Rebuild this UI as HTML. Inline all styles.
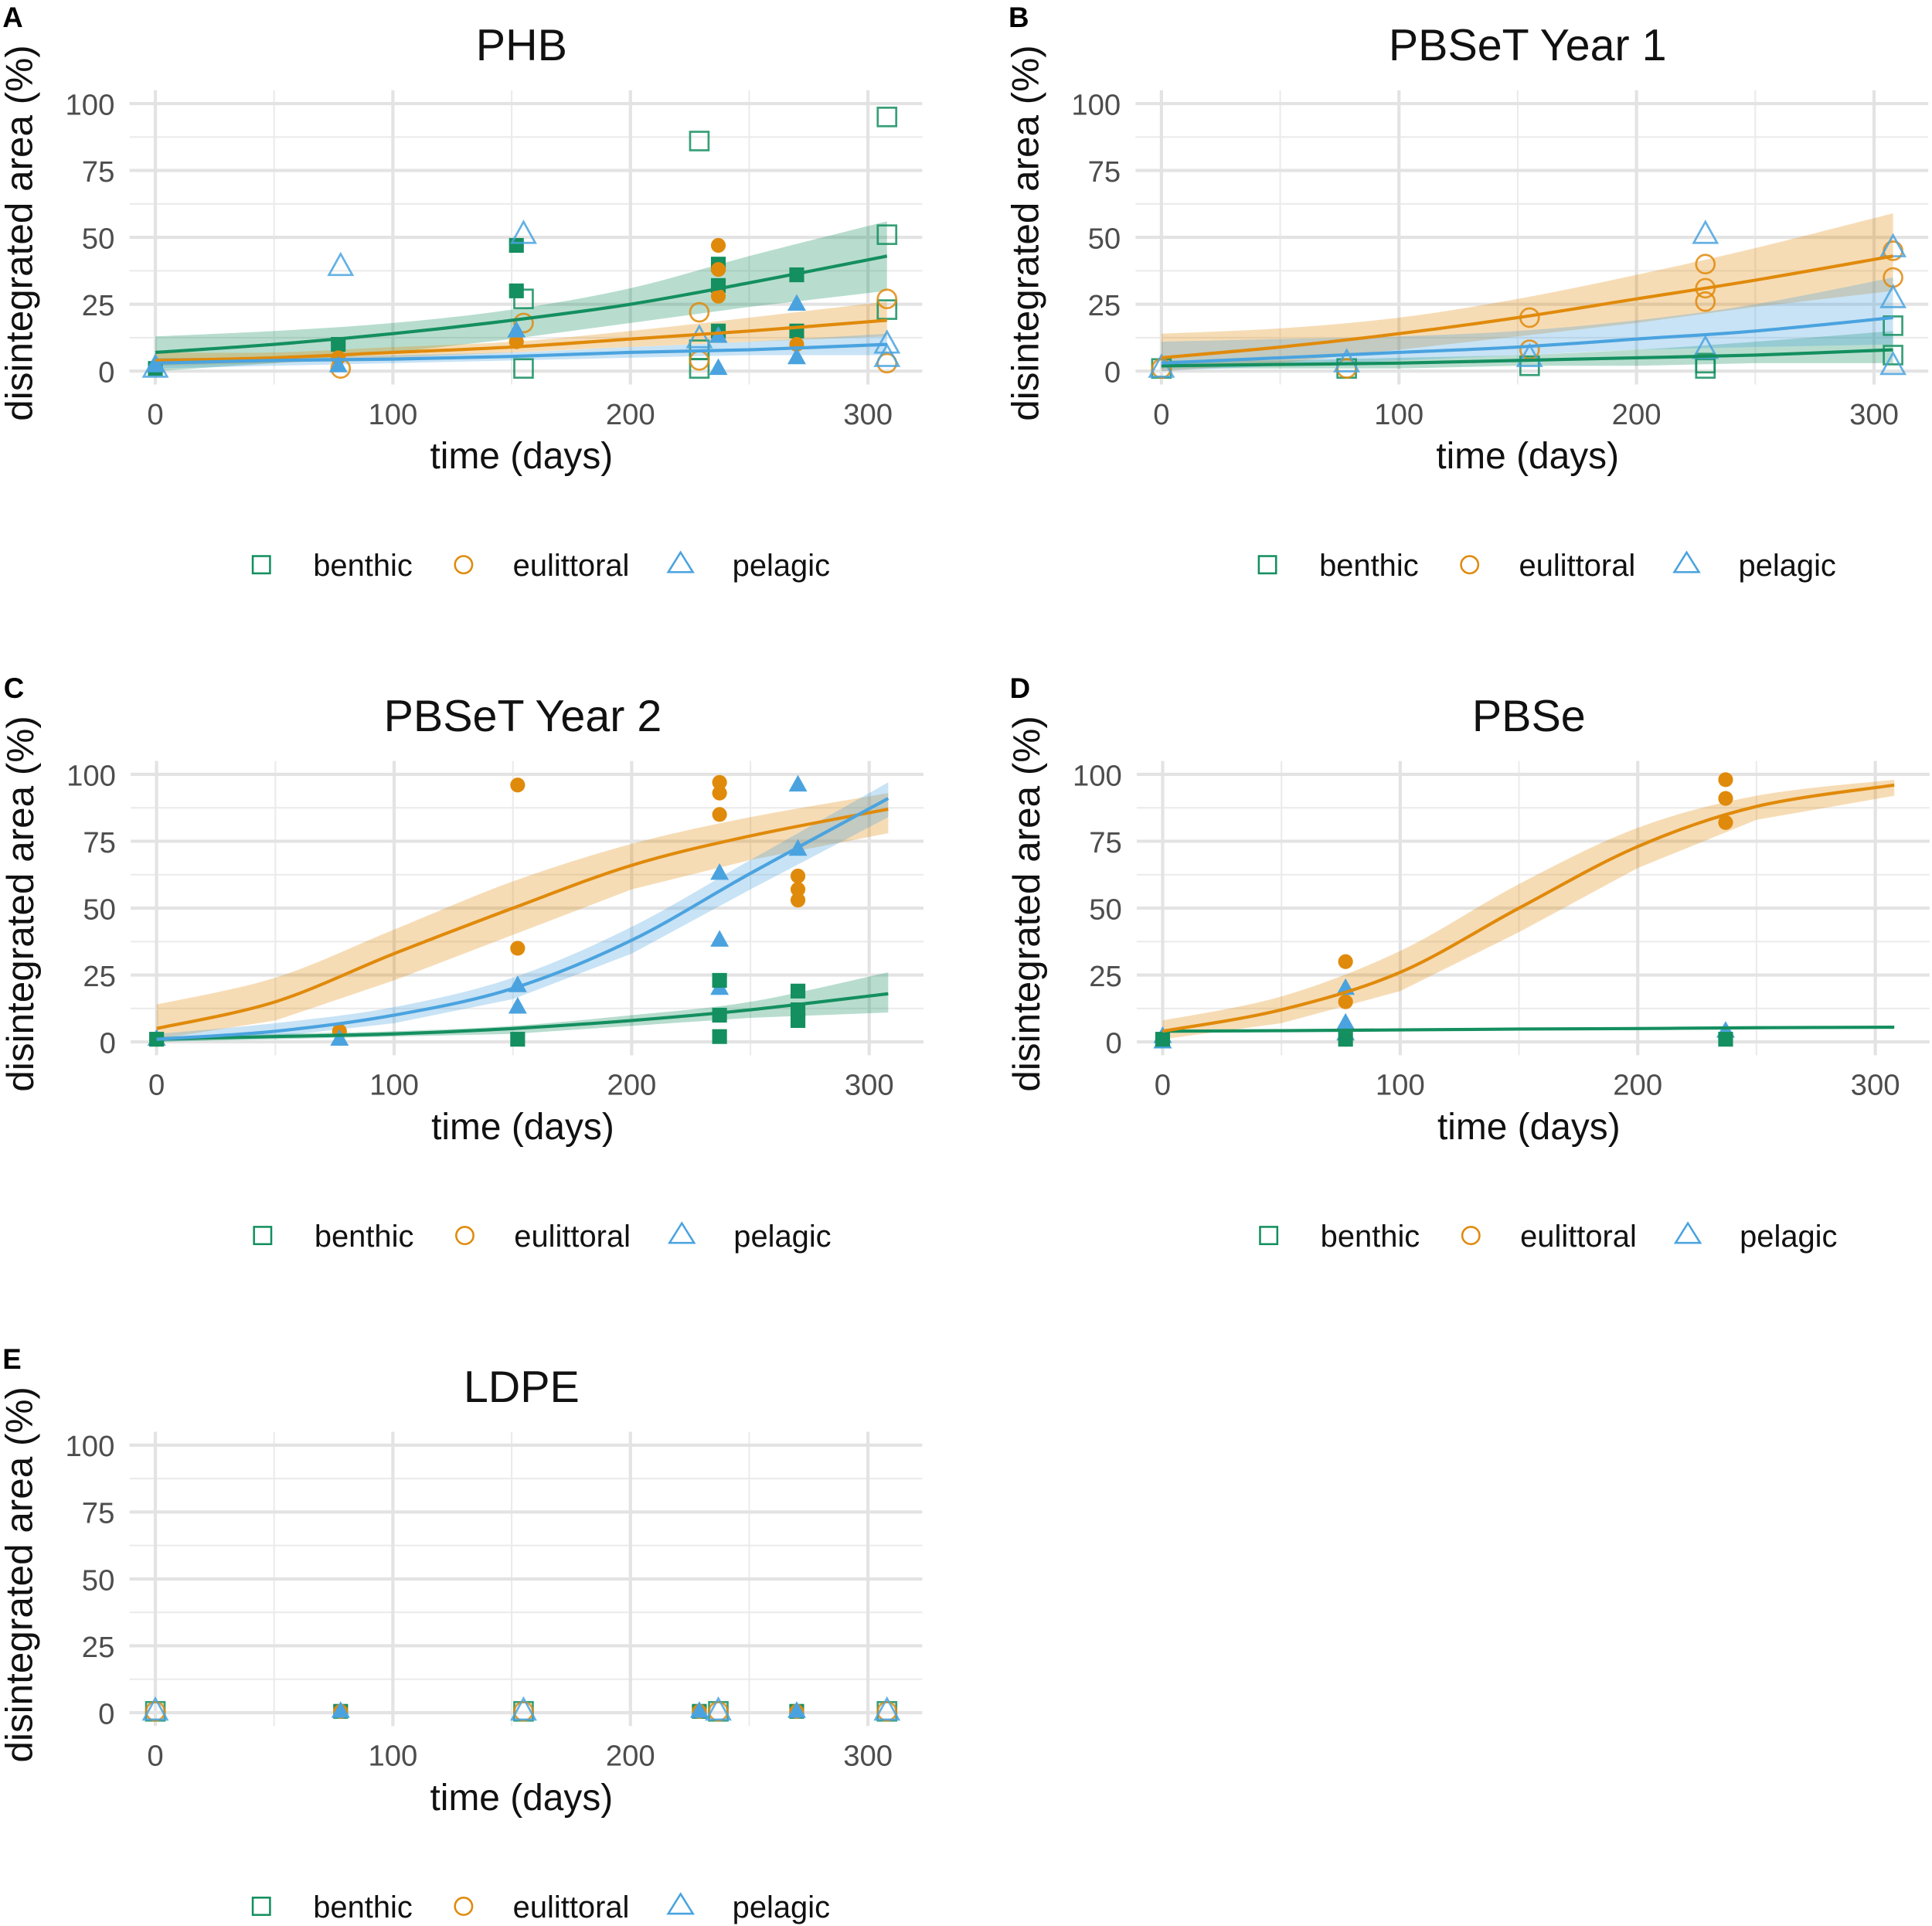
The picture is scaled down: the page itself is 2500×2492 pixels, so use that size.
<!DOCTYPE html>
<html><head><meta charset="utf-8"><style>
html,body{margin:0;padding:0;background:#fff}
svg{display:block}
text{font-family:"Liberation Sans",Arial,sans-serif}
</style></head><body>
<svg id="fig" width="2500" height="2492" viewBox="0 0 1567 1562" xmlns="http://www.w3.org/2000/svg"></svg>
<script>
// ---------- data ----------
const fitTimes = [0,50,100,150,200,250,308];
const groups = ["benthic","eulittoral","pelagic"];
const colors = {benthic:"#148f5f", eulittoral:"#e08a0b", pelagic:"#4aa3df"};
const xTicks = [0,100,200,300];
const yTicks = [0,25,50,75,100];

// panel A (PHB)
const phbFit = {
  benthic:{mid:[7,10,14,19,25,33,43], lo:[0,3,7,12,18,24,30], hi:[13,15,18,23,31,43,56]},
  eulittoral:{mid:[4,5,7,9,12,15,19], lo:[2,3,5,7,9,11,13], hi:[7,7,9,11,15,20,26]},
  pelagic:{mid:[3,4,4.5,5.5,7,8,10], lo:[1,2,3,4,5,6,6], hi:[5,5,6,7,9,11,14]}
};
const phbPoints = [
 [229,86,"benthic",0],[308,95,"benthic",0],[308,51,"benthic",0],[155,27,"benthic",0],[308,23,"benthic",0],[229,8,"benthic",0],[229,1,"benthic",0],[155,1,"benthic",0],
 [152,47,"benthic",1],[152,30,"benthic",1],[77,10,"benthic",1],[237,40,"benthic",1],[237,32,"benthic",1],[237,15,"benthic",1],[270,36,"benthic",1],[270,15,"benthic",1],[0,1,"benthic",1],
 [229,22,"eulittoral",0],[155,18,"eulittoral",0],[308,27,"eulittoral",0],[308,3,"eulittoral",0],[229,4,"eulittoral",0],[78,1,"eulittoral",0],
 [237,47,"eulittoral",1],[237,38,"eulittoral",1],[237,28,"eulittoral",1],[270,10,"eulittoral",1],[152,11,"eulittoral",1],[77,5,"eulittoral",1],
 [78,39,"pelagic",0],[155,51,"pelagic",0],[229,12,"pelagic",0],[308,10,"pelagic",0],[308,5,"pelagic",0],[0,1,"pelagic",0],
 [152,15,"pelagic",1],[237,1,"pelagic",1],[237,13,"pelagic",1],[270,25,"pelagic",1],[270,5,"pelagic",1],[77,2,"pelagic",1],[0,2,"pelagic",1]
];
// panel B (PBSeT Year 1)
const y1Fit = {
  benthic:{mid:[2,2.5,3,4,5,6,8], lo:[1,1,1,2,2,3,3], hi:[4,4,5,6,8,11,15]},
  eulittoral:{mid:[5,9,14,20,27,34,43], lo:[0,3,8,13,18,24,30], hi:[14,16,20,27,36,46,59]},
  pelagic:{mid:[3,5,7,9,12,15,20], lo:[0,2,4,6,8,9,10], hi:[11,12,13,15,19,25,35]}
};
const y1Points = [
 [308,17,"benthic",0],[308,6,"benthic",0],[229,3,"benthic",0],[229,1,"benthic",0],[155,2,"benthic",0],[78,1,"benthic",0],[0,1,"benthic",0],
 [229,40,"eulittoral",0],[229,31,"eulittoral",0],[229,26,"eulittoral",0],[155,20,"eulittoral",0],[155,8,"eulittoral",0],[308,45,"eulittoral",0],[308,35,"eulittoral",0],[78,1,"eulittoral",0],[0,1,"eulittoral",0],
 [229,51,"pelagic",0],[229,8,"pelagic",0],[308,46,"pelagic",0],[308,27,"pelagic",0],[308,2,"pelagic",0],[155,5,"pelagic",0],[78,3,"pelagic",0],[0,1,"pelagic",0]
];
// panel C (PBSeT Year 2)
const y2Fit = {
  benthic:{mid:[1,2,3,5,8,12,18], lo:[0,1,2,3,6,9,11], hi:[2,3,4,6,10,15,26]},
  eulittoral:{mid:[5,15,33,50,66,77,87], lo:[1,8,23,40,57,68,78], hi:[14,24,42,60,74,84,93]},
  pelagic:{mid:[1,4,10,20,38,63,91], lo:[0,2,7,16,33,57,84], hi:[3,7,13,24,43,68,97]}
};
const y2Points = [
 [152,96,"eulittoral",1],[152,35,"eulittoral",1],[237,97,"eulittoral",1],[237,93,"eulittoral",1],[237,85,"eulittoral",1],[270,62,"eulittoral",1],[270,57,"eulittoral",1],[270,53,"eulittoral",1],[77,4,"eulittoral",1],[0,1,"eulittoral",1],
 [270,96,"pelagic",1],[270,72,"pelagic",1],[237,63,"pelagic",1],[237,38,"pelagic",1],[237,20,"pelagic",1],[152,21,"pelagic",1],[152,13,"pelagic",1],[77,1,"pelagic",1],[0,1,"pelagic",1],
 [237,23,"benthic",1],[237,10,"benthic",1],[237,2,"benthic",1],[270,19,"benthic",1],[270,12,"benthic",1],[270,8,"benthic",1],[152,1,"benthic",1],[0,1,"benthic",1]
];
// panel D (PBSe)
const pbseFit = {
  benthic:{mid:[4,4.2,4.5,4.8,5,5.3,5.5], lo:null, hi:null},
  eulittoral:{mid:[4,12,26,50,73,88,96], lo:[1,7,19,41,65,83,92], hi:[8,17,34,59,80,92,98]}
};
const pbsePoints = [
 [237,98,"eulittoral",1],[237,91,"eulittoral",1],[237,82,"eulittoral",1],[77,30,"eulittoral",1],[77,15,"eulittoral",1],[77,1,"eulittoral",1],[0,1,"eulittoral",1],
 [77,20,"pelagic",1],[77,7,"pelagic",1],[77,3,"pelagic",1],[0,2,"pelagic",1],[237,4,"pelagic",1],[0,0,"pelagic",1],
 [0,1,"benthic",1],[77,1,"benthic",1],[237,1,"benthic",1]
];
// panel E (LDPE)
const ldpeTimes = [0,78,155,229,237,270,308];
const ldpeValues = [0.5,0.5,0.5,0.5,0.5,0.5,0.5];

// ---------- drawing ----------
const NS="http://www.w3.org/2000/svg";
const svg=document.getElementById("fig");
function el(tag,attrs,parent){const e=document.createElementNS(NS,tag);for(const k in attrs)e.setAttribute(k,attrs[k]);(parent||svg).appendChild(e);return e;}

function panel(cfg){
  const g=el("g",{});
  
  
  const ox=cfg.ox, oy=cfg.oy;
  const X=t=>ox+t*(578/300);
  const Y=v=>oy-v*2.17;
  const left=ox-21, right=ox+622, top=Y(105), bot=Y(-5);
  [50,150,250].forEach(t=>el("line",{x1:X(t),x2:X(t),y1:top,y2:bot,stroke:"#ebebeb","stroke-width":1.3},g));
  [12.5,37.5,62.5,87.5].forEach(v=>el("line",{x1:left,x2:right,y1:Y(v),y2:Y(v),stroke:"#ebebeb","stroke-width":1.3},g));
  xTicks.forEach(t=>el("line",{x1:X(t),x2:X(t),y1:top,y2:bot,stroke:"#e3e3e3","stroke-width":2.6},g));
  yTicks.forEach(v=>el("line",{x1:left,x2:right,y1:Y(v),y2:Y(v),stroke:"#e3e3e3","stroke-width":2.6},g));
  xTicks.forEach(t=>{const e=el("text",{x:X(t),y:oy+43,"text-anchor":"middle","font-size":24,fill:"#4d4d4d"},g);e.textContent=t;
    });
  yTicks.forEach(v=>{const e=el("text",{x:left-12,y:Y(v)+9,"text-anchor":"end","font-size":24,fill:"#4d4d4d"},g);e.textContent=v;
    });
  let e=el("text",{x:ox+297,y:oy-252,"text-anchor":"middle","font-size":36,fill:"#111"},g);e.textContent=cfg.title;
  
  e=el("text",{x:ox+297,y:oy+79,"text-anchor":"middle","font-size":30,fill:"#111"},g);e.textContent="time (days)";
  
  e=el("text",{x:0,y:0,"text-anchor":"middle","font-size":31,fill:"#111",transform:`translate(${ox-100},${oy-112}) rotate(-90)`},g);e.textContent="disintegrated area (%)";
  
  e=el("text",{x:ox-124,y:oy-279,"font-size":23,"font-weight":"bold",fill:"#000"},g);e.textContent=cfg.letter;
  
  const pathOf=(vals)=>{const pts=fitTimes.map((t,i)=>[X(t),Y(vals[i])]);let d=`M${pts[0][0]},${pts[0][1]}`;
    for(let i=0;i<pts.length-1;i++){const p0=pts[i-1]||pts[i],p1=pts[i],p2=pts[i+1],p3=pts[i+2]||p2;
      d+=` C${p1[0]+(p2[0]-p0[0])/6},${p1[1]+(p2[1]-p0[1])/6} ${p2[0]-(p3[0]-p1[0])/6},${p2[1]-(p3[1]-p1[1])/6} ${p2[0]},${p2[1]}`;}return d;};
  if(cfg.fit){
    for(const grp of Object.keys(cfg.fit)){const f=cfg.fit[grp];
      if(f.lo){const up=pathOf(f.hi);const loPts=fitTimes.map((t,i)=>[X(t),Y(f.lo[i])]).reverse();
        const r=el("path",{d:up+" L"+loPts.map(p=>p.join(",")).join(" L")+" Z",fill:colors[grp],"fill-opacity":0.3,stroke:"none"},g);
        }
    }
  }
  cfg.points.forEach(p=>{const [t,v,grp,filled]=p;const cx=X(t),cy=Y(v),c=colors[grp];
    const st=filled?{fill:c,stroke:"none"}:{fill:"none",stroke:c,"stroke-width":1.7,"stroke-opacity":0.85};
    let m;
    if(grp==="benthic") m=el("rect",Object.assign({x:cx-(filled?6:7.5),y:cy-(filled?6:7.5),width:filled?12:15,height:filled?12:15},st),g);
    else if(grp==="eulittoral") m=el("circle",Object.assign({cx:cx,cy:cy,r:filled?6:7.5},st),g);
    else {const s=filled?7.5:9.5;m=el("polygon",Object.assign({points:`${cx},${cy-s*1.1} ${cx-s},${cy+s*0.7} ${cx+s},${cy+s*0.7}`},st),g);}
    
  });
  if(cfg.fit){for(const grp of Object.keys(cfg.fit)){const l=el("path",{d:pathOf(cfg.fit[grp].mid),fill:"none",stroke:colors[grp],"stroke-width":2.6},g);
    }}
  const ly=oy+157; const lg=el("g",{},g);
  
  const lx=ox+86;
  let r=el("rect",{x:lx-7,y:ly-7,width:14,height:14,fill:"none",stroke:colors.benthic,"stroke-width":1.6},lg);
  
  e=el("text",{x:lx+42,y:ly+9,"font-size":25,fill:"#111"},lg);e.textContent="benthic";
  
  r=el("circle",{cx:lx+164,cy:ly,r:7,fill:"none",stroke:colors.eulittoral,"stroke-width":1.6},lg);
  
  e=el("text",{x:lx+204,y:ly+9,"font-size":25,fill:"#111"},lg);e.textContent="eulittoral";
  
  r=el("polygon",{points:`${lx+340},${ly-10} ${lx+330},${ly+6} ${lx+350},${ly+6}`,fill:"none",stroke:colors.pelagic,"stroke-width":1.6},lg);
  
  e=el("text",{x:lx+382,y:ly+9,"font-size":25,fill:"#111"},lg);e.textContent="pelagic";
  
}
const ldpePoints=[];
groups.forEach(grp=>ldpeTimes.forEach((t,i)=>ldpePoints.push([t,ldpeValues[i],grp,i%2])));
panel({name:"panel-a-phb",letter:"A",title:"PHB",ox:126,oy:301,fit:phbFit,points:phbPoints});
panel({name:"panel-b-pbset-year-1",letter:"B",title:"PBSeT Year 1",ox:942,oy:301,fit:y1Fit,points:y1Points});
panel({name:"panel-c-pbset-year-2",letter:"C",title:"PBSeT Year 2",ox:127,oy:845,fit:y2Fit,points:y2Points});
panel({name:"panel-d-pbse",letter:"D",title:"PBSe",ox:943,oy:845,fit:pbseFit,points:pbsePoints});
panel({name:"panel-e-ldpe",letter:"E",title:"LDPE",ox:126,oy:1389,fit:null,points:ldpePoints});
</script>
</body></html>
